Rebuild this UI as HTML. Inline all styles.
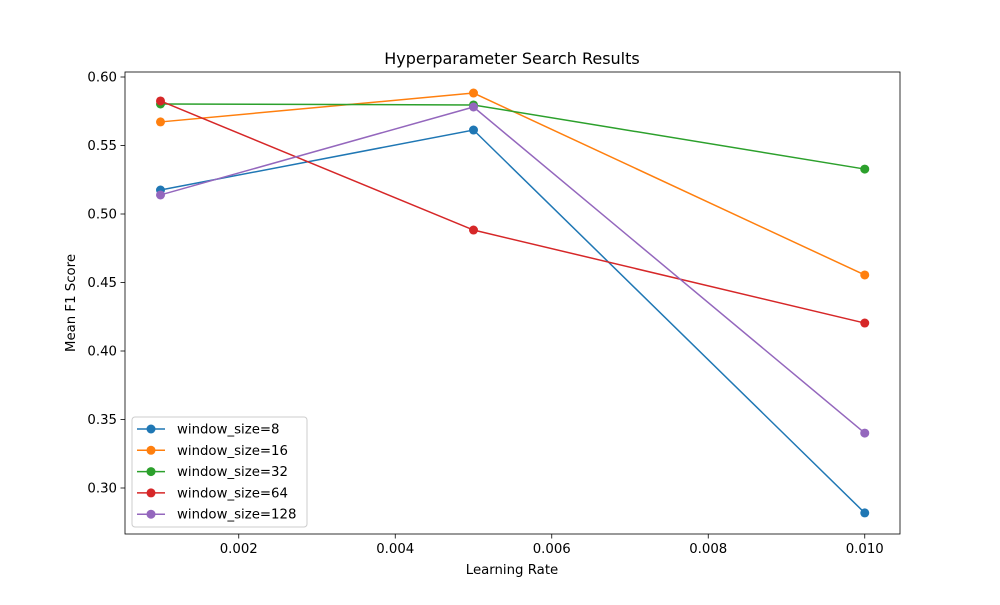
<!DOCTYPE html>
<html><head><meta charset="utf-8"><style>
body{margin:0;background:#fff;}
svg text{font-family:"DejaVu Sans","Liberation Sans",sans-serif;fill:#000;}
</style></head><body>
<svg id="chart" width="1000" height="600" xmlns="http://www.w3.org/2000/svg">
<rect width="1000" height="600" fill="#fff"/>
<text x="512" y="64" font-size="16" text-anchor="middle">Hyperparameter Search Results</text>
<g id="grid"></g>
<g id="series"></g>
<rect x="125" y="72" width="775" height="462" fill="none" stroke="#000" stroke-width="0.8"/>
<g id="axes"></g>
<text x="512" y="574" font-size="13.3" text-anchor="middle">Learning Rate</text>
<text x="75" y="303" font-size="13.3" text-anchor="middle" transform="rotate(-90 75 303)">Mean F1 Score</text>
<g id="legend"></g>
</svg>
<script>
const learningRates=[0.001,0.005,0.010];
const seriesNames=["window_size=8","window_size=16","window_size=32","window_size=64","window_size=128"];
const ws8=[0.5175,0.5613,0.2818];
const ws16=[0.5672,0.5883,0.4555];
const ws32=[0.5803,0.5796,0.5328];
const ws64=[0.5825,0.4883,0.4204];
const ws128=[0.5139,0.5781,0.3401];
const xTicks=[0.002,0.004,0.006,0.008,0.010];
const xTickLabels=["0.002","0.004","0.006","0.008","0.010"];
const yTicks=[0.30,0.35,0.40,0.45,0.50,0.55,0.60];
const yTickLabels=["0.30","0.35","0.40","0.45","0.50","0.55","0.60"];
const colors=["#1f77b4","#ff7f0e","#2ca02c","#d62728","#9467bd"];
const allSeries=[ws8,ws16,ws32,ws64,ws128];
const NS="http://www.w3.org/2000/svg";
function xs(v){return 160.5+(v-0.001)*78250;}
function ys(v){return 77+(0.6-v)*1370;}
function mk(tag,attrs,parent){const e=document.createElementNS(NS,tag);for(const k in attrs)e.setAttribute(k,attrs[k]);parent.appendChild(e);return e;}
const axes=document.getElementById('axes');
xTicks.forEach((t,i)=>{const x=xs(t);
 const l=mk('line',{x1:x,x2:x,y1:534,y2:538.5,stroke:'#000','stroke-width':0.8},axes);
 
 
 const tx=mk('text',{x:x,y:553,'font-size':13.3,'text-anchor':'middle'},axes);tx.textContent=xTickLabels[i];
 
 
});
yTicks.forEach((t,i)=>{const y=ys(t);
 const l=mk('line',{x1:120.5,x2:125,y1:y,y2:y,stroke:'#000','stroke-width':0.8},axes);
 
 
 const tx=mk('text',{x:117,y:y+4.5,'font-size':13.3,'text-anchor':'end'},axes);tx.textContent=yTickLabels[i];
 
 
});
const sg=document.getElementById('series');
allSeries.forEach((s,si)=>{
 const g=mk('g',{},sg);
 
 
 const pts=s.map((v,i)=>xs(learningRates[i])+','+ys(v)).join(' ');
 const pl=mk('polyline',{points:pts,fill:'none',stroke:colors[si],'stroke-width':1.5},g);
 
 
 s.forEach((v,i)=>{const c=mk('circle',{cx:xs(learningRates[i]),cy:ys(v),r:4.5,fill:colors[si]},g);
  
  });
});
const lg=document.getElementById('legend');


mk('rect',{x:132,y:417,width:175,height:110,rx:3,fill:'#fff','fill-opacity':0.8,stroke:'#ccc','stroke-width':1},lg);
seriesNames.forEach((n,i)=>{const y=429+i*21.3;
 const e=mk('g',{},lg);
 
 
 mk('line',{x1:137,x2:165,y1:y,y2:y,stroke:colors[i],'stroke-width':1.5},e);
 mk('circle',{cx:151,cy:y,r:4.5,fill:colors[i]},e);
 const t=mk('text',{x:177,y:y+4.5,'font-size':13.3},e);t.textContent=n;
});
</script>
</body></html>
